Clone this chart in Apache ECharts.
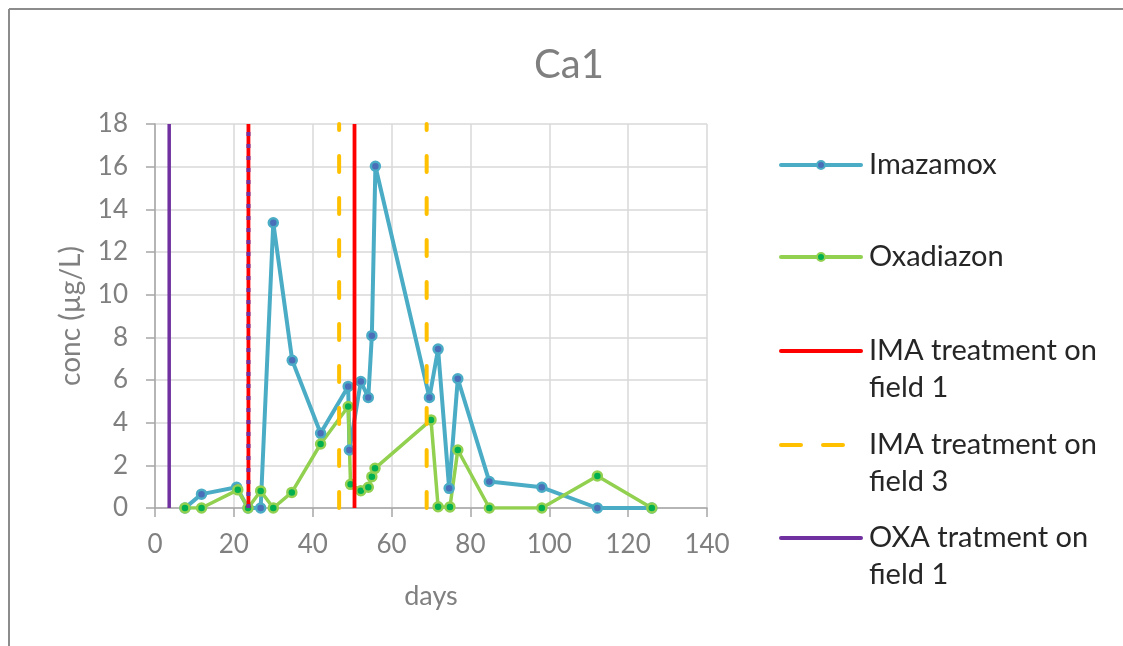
<!DOCTYPE html>
<html><head><meta charset="utf-8">
<script src="https://cdn.jsdelivr.net/npm/echarts@6/dist/echarts.min.js"></script>
<style>html,body{margin:0;padding:0;background:#fff}#c{width:1123px;height:646px}</style>
</head><body><div id="c"></div>
<script>
// ---- data ----
const imaDays = [7.6, 11.8, 20.7, 23.6, 26.8, 30.0, 34.8, 42.0, 49.0, 49.3, 52.2, 54.1, 55.0, 55.9, 69.6, 71.8, 74.6, 76.8, 84.8, 98.1, 112.2, 126.0];
const imaConc = [0, 0.65, 0.97, 0, 0, 13.37, 6.92, 3.5, 5.7, 2.72, 5.93, 5.18, 8.08, 16.02, 5.18, 7.45, 0.92, 6.06, 1.24, 0.97, 0, 0];
const oxaDays = [7.6, 11.8, 21.0, 23.6, 26.8, 30.0, 34.7, 42.0, 49.0, 49.6, 52.2, 54.1, 55.0, 55.8, 70.0, 71.8, 74.8, 76.8, 84.8, 98.1, 112.2, 126.0];
const oxaConc = [0, 0, 0.85, 0, 0.8, 0, 0.73, 3.0, 4.76, 1.11, 0.81, 0.97, 1.47, 1.86, 4.13, 0.06, 0.05, 2.72, 0, 0, 1.5, 0];
const imaField1Days = [23.7, 50.6];
const imaField3Days = [46.7, 68.9];
const oxaField1Days = [3.6];
const oxaField1DottedDays = [23.7];
const xTicks = [0, 20, 40, 60, 80, 100, 120, 140];
const yTicks = [0, 2, 4, 6, 8, 10, 12, 14, 16, 18];
const legendNames = ['Imazamox', 'Oxadiazon', 'IMA treatment on\nfield 1', 'IMA treatment on\nfield 3', 'OXA tratment on\nfield 1'];

const FONT = 'Lato';
const GRAY = '#808080';
const C_IMA = '#4BACC6', C_OXA = '#92D050', C_RED = '#FF0000', C_ORG = '#FFC000', C_PUR = '#7030A0';

const zip = (a, b) => a.map((v, i) => [v, b[i]]);
const vline = (name, d, color, dash, width, cap, z) => ({
  name, type: 'line', data: [[d, 0], [d, 18]], showSymbol: false, symbol: 'none', z: z || 3,
  lineStyle: { color, width, type: dash, cap: cap || 'butt' }, silent: true, animation: false
});

const series = [
  { name: legendNames[0], type: 'line', data: zip(imaDays, imaConc), symbol: 'circle', symbolSize: 9,
    lineStyle: { color: C_IMA, width: 4 }, itemStyle: { color: '#4A6FB8', borderColor: C_IMA, borderWidth: 2.5 }, animation: false },
  { name: legendNames[1], type: 'line', data: zip(oxaDays, oxaConc), symbol: 'circle', symbolSize: 9,
    lineStyle: { color: C_OXA, width: 3.5 }, itemStyle: { color: '#00B050', borderColor: C_OXA, borderWidth: 2.5 }, animation: false }
];
imaField3Days.forEach(d => series.push(vline(legendNames[3], d, C_ORG, [16, 26], 4, 'round', 4)));
imaField1Days.forEach(d => series.push(vline(legendNames[2], d, C_RED, 'solid', 3.8, 'butt', 5)));
oxaField1Days.forEach(d => series.push(vline(legendNames[4], d, C_PUR, 'solid', 3.5, 'butt', 5)));
oxaField1DottedDays.forEach(d => series.push(vline(legendNames[4] + ' ', d, C_PUR, [4, 8], 4, 'butt', 10)));

// legend drawn as graphic (Excel-style, icon aligned to first text line)
const legY = [165, 257, 351, 445, 538];
const graphic = [
  { type: 'line', shape: { x1: 9, y1: 646, x2: 9, y2: 9 }, style: { stroke: '#8C8C8C', lineWidth: 2 } },
  { type: 'line', shape: { x1: 9, y1: 9, x2: 1123, y2: 9 }, style: { stroke: '#8C8C8C', lineWidth: 2 } }
];
const legStyles = [
  { c: C_IMA, dash: null, mk: '#4A6FB8' },
  { c: C_OXA, dash: null, mk: '#00B050' },
  { c: C_RED, dash: null },
  { c: C_ORG, dash: [20, 22] },
  { c: C_PUR, dash: null }
];
legendNames.forEach((n, i) => {
  const s = legStyles[i], y = legY[i];
  graphic.push({ type: 'line', shape: { x1: 781, y1: y, x2: 861, y2: y },
    style: { stroke: s.c, lineWidth: 4, lineDash: s.dash, lineCap: 'round' } });
  if (s.mk) graphic.push({ type: 'circle', shape: { cx: 821, cy: y, r: 4 }, style: { fill: s.mk, stroke: s.c, lineWidth: 2 } });
  graphic.push({ type: 'text', x: 869, y: y - 18.5, style: { text: n, font: '29px ' + FONT, fill: '#262626', lineHeight: 36.5, textVerticalAlign: 'top' } });
});

const chart = echarts.init(document.getElementById('c'), null, { renderer: 'canvas' });
chart.setOption({
  animation: false,
  backgroundColor: '#fff',
  title: { text: 'Ca1', left: 564, top: 40, textAlign: 'center',
    textStyle: { fontFamily: FONT, fontSize: 40, fontWeight: 'normal', color: '#7F7F7F' } },
  grid: { left: 155, right: 416, top: 124, bottom: 138, containLabel: false },
  xAxis: {
    type: 'value', min: xTicks[0], max: xTicks[xTicks.length - 1], interval: 20,
    name: 'days', nameLocation: 'middle', nameGap: 75,
    nameTextStyle: { fontFamily: FONT, fontSize: 27, color: GRAY },
    axisLine: { show: true, lineStyle: { color: '#A6A6A6', width: 1.5 } },
    axisTick: { show: true, length: 9, lineStyle: { color: '#A6A6A6', width: 1.5 } },
    axisLabel: { fontFamily: FONT, fontSize: 26, color: GRAY, margin: 24 },
    splitLine: { show: true, lineStyle: { color: '#D9D9D9', width: 1.5 } }
  },
  yAxis: {
    type: 'value', min: yTicks[0], max: yTicks[yTicks.length - 1], interval: 2,
    name: 'conc (µg/L)', nameLocation: 'middle', nameGap: 70, nameRotate: 90,
    nameTextStyle: { fontFamily: FONT, fontSize: 28, color: GRAY },
    axisLine: { show: true, lineStyle: { color: '#A6A6A6', width: 1.5 } },
    axisTick: { show: true, length: 9, lineStyle: { color: '#A6A6A6', width: 1.5 } },
    axisLabel: { fontFamily: FONT, fontSize: 26, color: GRAY, margin: 27 },
    splitLine: { show: true, lineStyle: { color: '#D9D9D9', width: 1.5 } }
  },
  series,
  graphic
});
</script></body></html>
